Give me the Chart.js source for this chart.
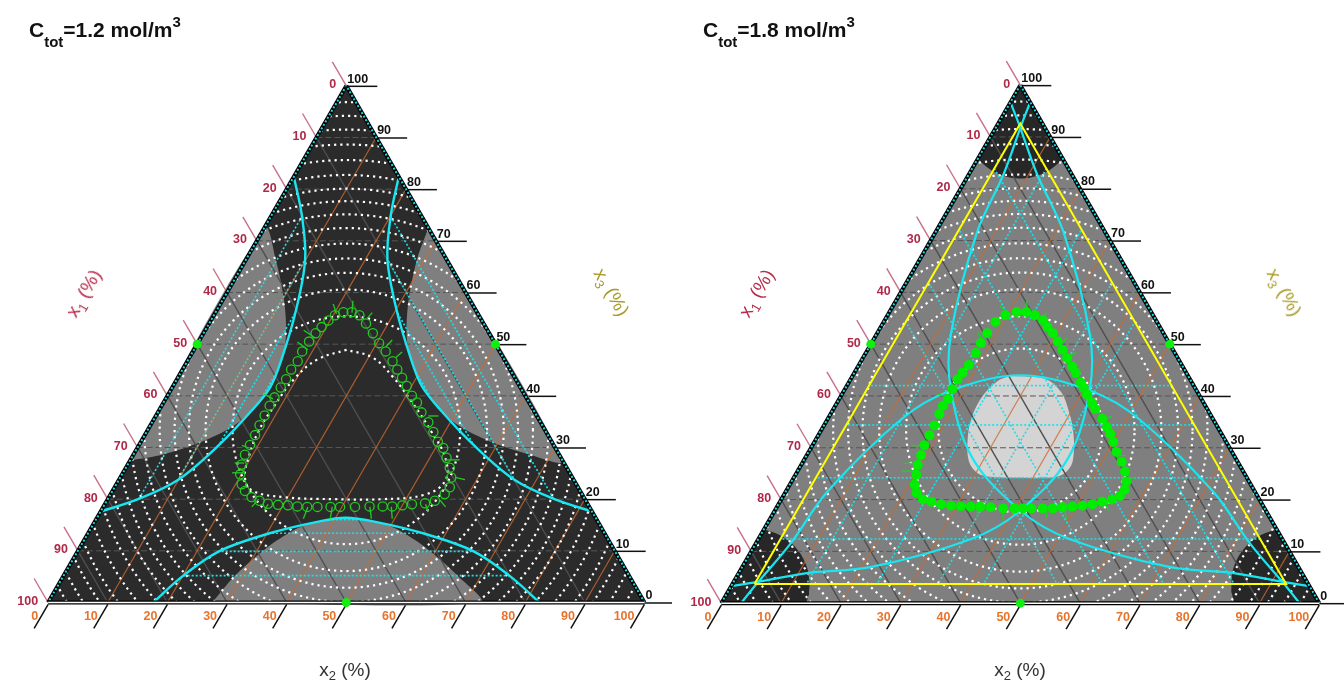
<!DOCTYPE html>
<html>
<head>
<meta charset="utf-8">
<script src="https://cdn.jsdelivr.net/npm/chart.js@4.4.1/dist/chart.umd.min.js"></script>
<style>
body { margin: 0; background: #fff; width: 1344px; height: 688px; overflow: hidden; position: relative; font-family: "Liberation Sans", Arial, sans-serif; }
.wrap { position: absolute; top: 0; width: 672px; height: 688px; }
canvas { display: block; }
.title { position: absolute; top: 18px; font-weight: bold; font-size: 21px; line-height: 24px; color: #111; white-space: nowrap; }
.title .sub { font-size: 15px; position: relative; top: 10px; }
.title .sup { font-size: 15px; position: relative; top: -10px; }
.lab { position: absolute; font-size: 19px; white-space: nowrap; transform-origin: center; }
.lab sub { font-size: 13px; }
</style>
</head>
<body>
<div class="wrap" style="left:0"><canvas id="c1" width="672" height="688"></canvas></div>
<div class="wrap" style="left:672px"><canvas id="c2" width="672" height="688"></canvas></div>

<div class="title" style="left:29px">C<span class="sub">tot</span>=1.2 mol/m<span class="sup">3</span></div>
<div class="title" style="left:703px">C<span class="sub">tot</span>=1.8 mol/m<span class="sup">3</span></div>

<div class="lab" style="left:85px;top:294px;color:#b52d4b;transform:translate(-50%,-50%) rotate(-60deg)">x<sub>1</sub> (%)</div>
<div class="lab" style="left:610px;top:293px;color:#a89a25;transform:translate(-50%,-50%) rotate(60deg)">x<sub>3</sub> (%)</div>
<div class="lab" style="left:345px;top:671px;color:#333;transform:translate(-50%,-50%)">x<sub>2</sub> (%)</div>
<div class="lab" style="left:758px;top:294px;color:#b52d4b;transform:translate(-50%,-50%) rotate(-60deg)">x<sub>1</sub> (%)</div>
<div class="lab" style="left:1283px;top:293px;color:#a89a25;transform:translate(-50%,-50%) rotate(60deg)">x<sub>3</sub> (%)</div>
<div class="lab" style="left:1020px;top:671px;color:#333;transform:translate(-50%,-50%)">x<sub>2</sub> (%)</div>

<script>
// all compositions are in %, ordered [x1, x2, x3]
const tickValues = [0, 10, 20, 30, 40, 50, 60, 70, 80, 90, 100];
const gridLevels = [10, 20, 30, 40, 50, 60, 70, 80, 90];
const edgeMarks = [[50, 0, 50], [0, 50, 50], [50, 50, 0]];

// white dotted contours, radius as fraction of the side, centred on the centroid
const contourRadiiLeft = [0.191, 0.236, 0.264, 0.288, 0.313, 0.339, 0.362, 0.384, 0.405, 0.428, 0.453, 0.479, 0.504, 0.527, 0.550, 0.572];
const contourRadiiRight = [0.137, 0.191, 0.236, 0.264, 0.288, 0.313, 0.339, 0.362, 0.384, 0.405, 0.428, 0.453, 0.479, 0.504, 0.527, 0.550, 0.572];

// ---- C = 1.2 ----
const lobeBottom = [[72.5,27.5,0],[66.2,28.7,5.1],[57.7,31.5,10.8],[50.4,35,14.6],[44.1,39.7,16.2],[41.9,41.6,16.5],[39.7,44.1,16.2],[35,50.4,14.6],[31.5,57.7,10.8],[28.7,66.2,5.1],[27.5,72.5,0]];
const lobeLeft = [[72.5,0,27.5],[66.2,5.1,28.7],[57.7,10.8,31.5],[50.4,14.6,35],[44.1,16.2,39.7],[41.9,16.5,41.6],[39.7,16.2,44.1],[35,14.6,50.4],[31.5,10.8,57.7],[28.7,5.1,66.2],[27.5,0,72.5]];
const lobeRight = [[0,27.5,72.5],[5.1,28.7,66.2],[10.8,31.5,57.7],[14.6,35,50.4],[16.2,39.7,44.1],[16.5,41.6,41.9],[16.2,44.1,39.7],[14.6,50.4,35],[10.8,57.7,31.5],[5.1,66.2,28.7],[0,72.5,27.5]];

const spinodalBottom = [[82.4,17.6,0],[74.9,20,5.1],[66.4,23.7,9.9],[56.5,30.2,13.3],[47.1,37.3,15.6],[41.9,41.7,16.4],[37.3,47.1,15.6],[30.2,56.5,13.3],[23.7,66.4,9.9],[20,74.9,5.1],[17.6,82.4,0]];
const spinodalLeft = [[82.4,0,17.6],[74.9,5.1,20],[66.4,9.9,23.7],[56.5,13.3,30.2],[47.1,15.6,37.3],[41.9,16.4,41.7],[37.3,15.6,47.1],[30.2,13.3,56.5],[23.7,9.9,66.4],[20,5.1,74.9],[17.6,0,82.4]];
const spinodalRight = [[0,17.6,82.4],[5.1,20,74.9],[9.9,23.7,66.4],[13.3,30.2,56.5],[15.6,37.3,47.1],[16.4,41.7,41.9],[15.6,47.1,37.3],[13.3,56.5,30.2],[9.9,66.4,23.7],[5.1,74.9,20],[0,82.4,17.6]];
const tieLevelsLeft = [5.2, 9.9, 13.4, 16.0];

const innerLoopX2 = [25.6,21.6,19.6,18.9,18.7,19.6,20.9,23.3,29.3,37.8,46.0,52.8,54.8,52.6,47.7,41.6,35.8,30.7];
const innerLoopX3 = [48.9,47.0,43.2,38.0,33.1,28.0,24.2,21.7,20.4,20.0,20.0,20.9,23.6,28.0,33.1,38.8,43.8,47.4];

const loopLeftX2 = [22.2,23.9,25.6,27.3,29.1,30.8,32.5,34.2,35.9,38.1,39.7,42.2,44.6,46.8,48.4,50.0,51.5,53.6,55.0,56.0,56.2,55.5,54.3,52.8,51.3,49.8,48.1,46.3,44.2,42.5,41.0,39.2,37.6,36.0,34.4,32.3,30.4,28.4,26.3,24.4,22.8,21.4,20.3,19.7,19.2,18.8,18.5,18.3,18.5,18.2,18.3,18.2,18.1,18.1,18.2,18.3,18.5,18.6,18.7,19.1,19.8,21.0];
const loopLeftX3 = [21.6,20.4,19.7,19.1,18.9,18.8,18.6,18.5,18.5,18.5,18.5,18.5,18.6,18.6,18.6,18.8,19.0,19.2,19.7,21.0,22.3,24.2,26.1,28.0,29.9,31.1,33.0,34.9,36.8,38.7,40.0,41.9,43.5,45.1,46.7,48.6,50.2,52.1,54.0,55.6,56.2,56.2,55.6,54.6,53.3,52.1,50.5,48.6,46.7,45.1,43.2,41.6,39.7,38.1,36.2,34.3,32.4,30.5,28.6,26.7,24.8,22.9];
// error whiskers: [x2 start, x3 start, x2 end, x3 end]
const spikesLeft = [[20.4,55.9,18.9,57.8],[22.9,56.1,21.9,58.4],[26.0,55.0,26.3,56.1],[19.2,51.2,16.5,52.7],[19.1,48.9,16.6,50.4],[31.9,49.5,32.3,50.8],[34.6,47.4,35.1,48.5],[18.0,39.4,16.1,40.3],[45.7,36.1,47.4,36.1],[18.7,29.9,17.3,30.4],[19.4,27.0,17.8,27.0],[20.2,25.1,18.3,25.1],[52.8,27.6,55.2,27.6],[56.1,24.2,58.0,23.8],[25.3,20.0,24.9,18.5],[27.4,19.0,27.3,17.9],[34.3,18.5,34.7,16.2],[38.4,18.5,39.2,16.2],[44.7,18.5,46.1,16.2],[48.3,18.5,49.6,16.2],[53.8,19.0,55.0,17.5],[55.8,19.8,57.4,18.5]];

// ---- C = 1.8 ----
const arcBC = [[96.7,3.3,0],[92.4,4,3.6],[82.8,5.8,11.4],[71.4,7,21.6],[52,12.4,35.6],[41.5,17.6,40.9],[28,28,44],[17.6,41.5,40.9],[12.4,52,35.6],[7,71.4,21.6],[5.8,82.8,11.4],[4,92.4,3.6],[3.3,96.7,0]];
const arcCA = [[0,96.7,3.3],[3.6,92.4,4],[11.4,82.8,5.8],[21.6,71.4,7],[35.6,52,12.4],[40.9,41.5,17.6],[44,28,28],[40.9,17.6,41.5],[35.6,12.4,52],[21.6,7,71.4],[11.4,5.8,82.8],[3.6,4,92.4],[0,3.3,96.7]];
const arcAB = [[3.3,0,96.7],[4,3.6,92.4],[5.8,11.4,82.8],[7,21.6,71.4],[12.4,35.6,52],[17.6,40.9,41.5],[28,44,28],[41.5,40.9,17.6],[52,35.6,12.4],[71.4,21.6,7],[82.8,11.4,5.8],[92.4,3.6,4],[96.7,0,3.3]];
const yellowTri = [[92.6,3.7,3.7],[3.7,92.6,3.7],[3.7,3.7,92.6]];
const cornerRadius = 0.092;
const latticeLevels = [12.4, 24.2, 34.4, 42.0];

const blobX2 = [28.5,32.8,36.5,39.7,42.3,44.3,45.2,44.5,42.3,36.7,32.8,30.3,27.7,25.3,23.9,23.7,24.7,26.4];
const blobX3 = [43.8,43.2,40.7,36.9,33.1,29.3,26.6,24.7,24.2,24.2,24.4,25.1,27.4,31.8,36.1,40.0,42.8,43.8];

const loopRightX2 = [21.3,22.9,24.6,26.5,27.9,29.4,31.0,32.6,34.2,35.8,37.0,38.8,39.8,41.0,42.6,43.8,45.9,47.5,48.7,50.0,51.5,53.3,54.8,56.0,56.5,56.3,55.3,53.9,52.5,51.0,49.4,47.8,46.3,44.6,42.7,41.3,39.9,38.0,35.8,34.0,32.4,30.7,29.0,27.2,25.3,23.7,22.0,20.9,20.2,19.5,19.1,18.7,18.6,18.5,18.2,18.0,18.2,18.0,17.9,18.1,18.4,18.4,18.3,18.4,18.7,19.7];
const loopRightX3 = [56.2,56.2,55.6,54.6,53.3,52.1,50.5,48.9,47.3,45.7,44.5,42.6,41.6,40.3,38.7,37.5,35.6,34.0,32.7,31.1,29.2,27.3,25.4,23.5,21.9,20.7,20.0,19.6,19.1,18.8,18.6,18.5,18.3,18.3,18.3,18.3,18.3,18.3,18.5,18.6,18.6,18.7,18.8,19.1,19.6,20.0,21.3,22.9,24.8,26.7,28.6,30.5,32.4,34.3,36.5,38.1,39.4,41.3,43.2,44.5,46.0,48.3,50.2,52.1,54.3,55.6];
const spikesRight = [[20.0,55.9,17.9,57.4],[23.0,56.1,21.9,58.4],[26.4,54.6,26.3,56.1],[18.3,50.8,16.7,52.3],[31.9,49.8,32.1,51.2],[34.5,47.4,35.1,48.5],[18.0,39.8,16.1,40.3],[46.5,35.6,47.2,36.1],[18.7,30.4,16.6,30.4],[52.2,28.5,53.5,28.5],[19.1,27.0,17.1,27.0],[19.6,25.5,17.4,25.5],[55.6,24.2,57.1,24.2],[33.6,18.5,34.6,16.5],[38.1,18.1,39.1,16.0],[44.8,18.5,46.2,16.5],[48.1,18.5,49.6,16.2],[54.8,19.0,55.8,17.9]];

// ---------------------------------------------------------------
const H = Math.sqrt(3) / 2;
const SIDE = 607;
const tern = p => ({ x: (p[1] + p[2] / 2) / 100, y: p[2] * H / 100 });
const t23 = (b, c) => tern([100 - b - c, b, c]);
const fromX2X3 = (a, b) => a.map((v, i) => t23(v, b[i]));
const TRI = [[100, 0, 0], [0, 100, 0], [0, 0, 100]].map(tern);
const CENTRE = { x: 0.5, y: H / 3 };

function clipConvex(subject, clip) {
  let out = subject;
  for (let i = 0; i < clip.length; i++) {
    const a = clip[i], b = clip[(i + 1) % clip.length];
    const side = p => (b.x - a.x) * (p.y - a.y) - (b.y - a.y) * (p.x - a.x);
    const inp = out; out = [];
    for (let j = 0; j < inp.length; j++) {
      const p = inp[j], q = inp[(j + 1) % inp.length];
      const sp = side(p), sq = side(q);
      if (sp >= 0) out.push(p);
      if ((sp >= 0) !== (sq >= 0)) {
        const t = sp / (sp - sq);
        out.push({ x: p.x + t * (q.x - p.x), y: p.y + t * (q.y - p.y) });
      }
    }
  }
  return out;
}

function circle(c, r, n) {
  const pts = [];
  for (let i = 0; i <= n; i++) {
    const a = i / n * 2 * Math.PI;
    pts.push({ x: c.x + r * Math.cos(a), y: c.y + r * Math.sin(a) });
  }
  return pts;
}

const line = (data, o) => Object.assign({ data, showLine: true, pointRadius: 0, borderWidth: 1, borderColor: '#000', fill: false, tension: 0 }, o);
const shape = (data, color, tension) => line(data, { fill: 'shape', backgroundColor: color, borderWidth: 0, borderColor: color, tension: tension || 0 });
const closed = pts => pts.concat([pts[0]]);

function isoLine(k, v) {
  if (k === 0) return [tern([v, 100 - v, 0]), tern([v, 0, 100 - v])];
  if (k === 1) return [tern([100 - v, v, 0]), tern([0, v, 100 - v])];
  return [tern([100 - v, 0, v]), tern([0, 100 - v, v])];
}

function gridSets(ds) {
  gridLevels.forEach(v => ds.push(line(isoLine(0, v), { borderColor: '#4f4f4f', borderWidth: 1.4, clipTo: TRI })));
  gridLevels.forEach(v => ds.push(line(isoLine(2, v), { borderColor: '#575757', borderWidth: 1, borderDash: [6, 3], clipTo: TRI })));
  gridLevels.forEach(v => ds.push(line(isoLine(1, v), { borderColor: 'rgba(205,105,45,0.8)', borderWidth: 1.2, clipTo: TRI })));
}

function contourSets(ds, radii) {
  radii.forEach(r => ds.push(line(circle(CENTRE, r, 180), { borderColor: '#fff', borderWidth: 2.2, borderDash: [2.2, 4], clipTo: TRI })));
}

function spikeSets(ds, spikes, color) {
  spikes.forEach(s => ds.push(line([t23(s[0], s[1]), t23(s[2], s[3])], { borderColor: color, borderWidth: 1.3 })));
}

function edgeSets(ds) {
  const L = [TRI[2], TRI[0]], R = [TRI[1], TRI[2]], B = [TRI[0], TRI[1]];
  [L, R].forEach(e => {
    ds.push(line(e, { borderColor: '#000', borderWidth: 4 }));
    ds.push(line(e, { borderColor: '#19d8e0', borderWidth: 2, borderDash: [2, 2] }));
  });
  ds.push(line(B, { borderColor: '#000', borderWidth: 4 }));
  ds.push(line(B, { borderColor: '#fff', borderWidth: 1.5 }));
  ds.push({ data: edgeMarks.map(tern), showLine: false, pointRadius: 4.5, pointBackgroundColor: '#11ee11', pointBorderColor: '#11ee11', pointBorderWidth: 0 });
}

function leftSets() {
  const ds = [];
  ds.push(shape(closed(TRI), '#2b2b2b'));
  [lobeBottom, lobeLeft, lobeRight].forEach(l => ds.push(shape(closed(l.map(tern)), '#7f7f7f', 0.3)));
  gridSets(ds);
  contourSets(ds, contourRadiiLeft);
  ds.push(line(closed(fromX2X3(innerLoopX2, innerLoopX3)), { borderColor: '#fff', borderWidth: 2.2, borderDash: [2.2, 4], tension: 0.4 }));
  const families = [[2, spinodalBottom], [1, spinodalLeft], [0, spinodalRight]];
  families.forEach(([k, curve]) => {
    const poly = curve.map(tern);
    tieLevelsLeft.forEach(v => ds.push(line(isoLine(k, v), { borderColor: '#19e0ea', borderWidth: 1.6, borderDash: [2, 2], clipTo: poly })));
  });
  families.forEach(([k, curve]) => ds.push(line(curve.map(tern), { borderColor: '#19e6f0', borderWidth: 2.4, tension: 0.35 })));
  edgeSets(ds);
  spikeSets(ds, spikesLeft, '#22cc22');
  ds.push({ data: fromX2X3(loopLeftX2, loopLeftX3), showLine: false, pointRadius: 4.6, pointBackgroundColor: 'rgba(0,0,0,0)', pointBorderColor: '#22cc22', pointBorderWidth: 1.3 });
  return ds;
}

function rightSets() {
  const ds = [];
  ds.push(shape(closed(TRI), '#7f7f7f'));
  yellowTri.forEach(v => ds.push(shape(closed(clipConvex(circle(tern(v), cornerRadius, 90).slice(0, 90), TRI)), '#272727')));
  ds.push(shape(closed(fromX2X3(blobX2, blobX3)), '#d4d4d4', 0.35));
  gridSets(ds);
  contourSets(ds, contourRadiiRight);
  const yt = yellowTri.map(tern);
  [0, 1, 2].forEach(k => latticeLevels.forEach(v => ds.push(line(isoLine(k, v), { borderColor: '#19e0ea', borderWidth: 1.6, borderDash: [2, 2], clipTo: yt }))));
  [arcBC, arcCA, arcAB].forEach(a =>
    ds.push(line(a.map(tern), { borderColor: '#19e6f0', borderWidth: 2.2, tension: 0.35 })));
  ds.push(line(closed(yt), { borderColor: '#ffff00', borderWidth: 2 }));
  edgeSets(ds);
  spikeSets(ds, spikesRight, '#11dd11');
  ds.push({ data: fromX2X3(loopRightX2, loopRightX3), showLine: false, pointRadius: 5, pointBackgroundColor: '#00ee00', pointBorderColor: '#00ee00', pointBorderWidth: 0 });
  return ds;
}

const ternaryPlugin = {
  id: 'ternary',
  beforeDatasetDraw(chart, args) {
    const ds = chart.data.datasets[args.index];
    if (!ds.clipTo) return;
    const ctx = chart.ctx, sx = chart.scales.x, sy = chart.scales.y;
    ctx.save();
    ctx.beginPath();
    ds.clipTo.forEach((p, i) => {
      const X = sx.getPixelForValue(p.x), Y = sy.getPixelForValue(p.y);
      if (i) ctx.lineTo(X, Y); else ctx.moveTo(X, Y);
    });
    ctx.closePath();
    ctx.clip();
  },
  afterDatasetDraw(chart, args) {
    if (chart.data.datasets[args.index].clipTo) chart.ctx.restore();
  },
  beforeDatasetsDraw(chart) {
    const ctx = chart.ctx, sx = chart.scales.x, sy = chart.scales.y;
    const px = p => { const q = tern(p); return [sx.getPixelForValue(q.x), sy.getPixelForValue(q.y)]; };
    ctx.save();
    ctx.font = 'bold 12.5px "Liberation Sans", Arial, sans-serif';
    tickValues.forEach(v => {
      // x1 on the left side
      let [x, y] = px([v, 0, 100 - v]);
      ctx.strokeStyle = '#c8708a'; ctx.lineWidth = 1.4;
      ctx.beginPath(); ctx.moveTo(x, y); ctx.lineTo(x - 14, y - 24); ctx.stroke();
      ctx.fillStyle = '#b02848'; ctx.textAlign = 'right'; ctx.textBaseline = 'middle';
      ctx.fillText(String(v), x - 10, y - 1);
      // x2 on the bottom
      [x, y] = px([100 - v, v, 0]);
      ctx.strokeStyle = '#111'; ctx.lineWidth = 1.5;
      ctx.beginPath(); ctx.moveTo(x, y + 2); ctx.lineTo(x - 14, y + 26); ctx.stroke();
      ctx.fillStyle = '#e8742c';
      ctx.fillText(String(v), x - 10, y + 14);
      // x3 on the right side
      [x, y] = px([0, 100 - v, v]);
      ctx.beginPath(); ctx.moveTo(x, y + 0.5); ctx.lineTo(x + 31, y + 0.5); ctx.stroke();
      ctx.fillStyle = '#111'; ctx.textAlign = 'left'; ctx.textBaseline = 'bottom';
      ctx.fillText(String(v), x + 1, y - 0.5);
    });
    ctx.restore();
  }
};

function makeChart(id, leftPx, datasets) {
  datasets.forEach((d, i) => { d.order = 10000 - i; });
  const xmin = -leftPx / SIDE;
  return new Chart(document.getElementById(id), {
    type: 'scatter',
    data: { datasets },
    options: {
      responsive: false,
      animation: false,
      events: [],
      layout: { padding: 0 },
      scales: {
        x: { type: 'linear', display: false, min: xmin, max: xmin + 672 / SIDE },
        y: { type: 'linear', display: false, min: 1 - 688 / SIDE, max: 1 }
      },
      plugins: { legend: { display: false }, tooltip: { enabled: false } }
    },
    plugins: [ternaryPlugin]
  });
}

makeChart('c1', 43, leftSets());
makeChart('c2', 45, rightSets());
</script>
</body>
</html>
